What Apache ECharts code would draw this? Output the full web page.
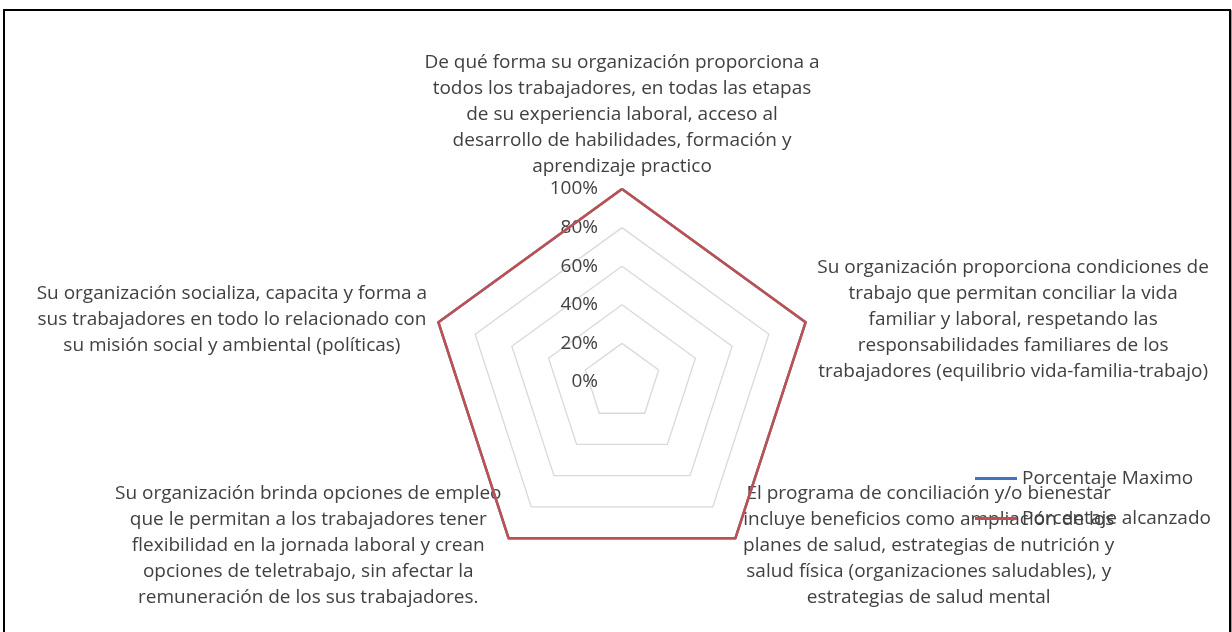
<!DOCTYPE html>
<html>
<head>
<meta charset="utf-8">
<script src="https://cdn.jsdelivr.net/npm/echarts@6/dist/echarts.min.js"></script>
<style>
  html, body { margin: 0; padding: 0; background: #fff; }
  .frame {
    position: absolute; left: 3px; top: 9px; width: 1224px; height: 640px;
    border: 2px solid #000; box-shadow: 1px 1px 0 #9a9a9a;
  }
  #chart { position: absolute; left: 0; top: 0; width: 1232px; height: 632px; }
</style>
</head>
<body>
<div class="frame"></div>
<div id="chart"></div>
<script>
// indicators in ECharts order (counterclockwise from the top)
const indicatorNames = [
  'De qué forma su organización proporciona a\ntodos los trabajadores, en todas las etapas\nde su experiencia laboral, acceso al\ndesarrollo de habilidades, formación y\naprendizaje practico',
  'Su organización socializa, capacita y forma a\nsus trabajadores en todo lo relacionado con\nsu misión social y ambiental (políticas)',
  'Su organización brinda opciones de empleo\nque le permitan a los trabajadores tener\nflexibilidad en la jornada laboral y crean\nopciones de teletrabajo, sin afectar la\nremuneración de los sus trabajadores.',
  'El programa de conciliación y/o bienestar\nincluye beneficios como ampliación de los\nplanes de salud, estrategias de nutrición y\nsalud física (organizaciones saludables), y\nestrategias de salud mental',
  'Su organización proporciona condiciones de\ntrabajo que permitan conciliar la vida\nfamiliar y laboral, respetando las\nresponsabilidades familiares de los\ntrabajadores (equilibrio vida-familia-trabajo)'
]
const seriesNames = ['Porcentaje Maximo', 'Porcentaje alcanzado']
const porcentajeMaximo = [100, 100, 100, 100, 100]
const porcentajeAlcanzado = [100, 100, 100, 100, 100]

const textColor = '#404040'
const fontFamily = '"Open Sans", "Noto Sans", sans-serif'
const fontSize = 19
const blockWidths = [400, 396, 390, 376, 398]

const chart = echarts.init(document.getElementById('chart'))

const rich = {}
blockWidths.forEach((w, i) => {
  rich['w' + i] = { width: w, align: 'center', lineHeight: 26, fontSize, color: textColor, fontFamily }
})

const option = {
  backgroundColor: 'transparent',
  animation: false,
  legend: {
    orient: 'vertical',
    left: 970,
    top: 464,
    itemWidth: 42,
    itemHeight: 3,
    itemGap: 21,
    icon: 'rect',
    data: seriesNames,
    textStyle: { color: textColor, fontSize, fontFamily },
  },
  radar: {
    center: [622, 382],
    radius: 193,
    startAngle: 90,
    splitNumber: 5,
    shape: 'polygon',
    indicator: indicatorNames.map((name, i) => ({
      name,
      min: 0,
      max: 100,
      axisLabel: i === 0 ? { show: true } : undefined,
    })),
    axisName: {
      color: textColor,
      fontSize,
      fontFamily,
      formatter: (name) => {
        const k = 'w' + indicatorNames.indexOf(name)
        return name.split('\n').map(line => '{' + k + '|' + line + '}').join('\n')
      },
      rich,
    },
    nameGap: 9,
    axisLine: { show: false },
    axisTick: { show: false },
    axisLabel: {
      show: false,
      margin: 24,
      color: textColor,
      fontSize,
      fontFamily,
      formatter: (v) => v + '%',
    },
    splitLine: { lineStyle: { color: '#d9d9d9', width: 1.3 } },
    splitArea: { show: false },
  },
  series: [
    {
      type: 'radar',
      symbol: 'none',
      data: [
        {
          name: seriesNames[0],
          value: porcentajeMaximo,
          lineStyle: { color: '#4472c4', width: 2.5 },
          itemStyle: { color: '#4472c4' },
        },
        {
          name: seriesNames[1],
          value: porcentajeAlcanzado,
          lineStyle: { color: '#c0504d', width: 2.5 },
          itemStyle: { color: '#c0504d' },
        },
      ],
    },
  ],
}

chart.setOption(option)
</script>
</body>
</html>
